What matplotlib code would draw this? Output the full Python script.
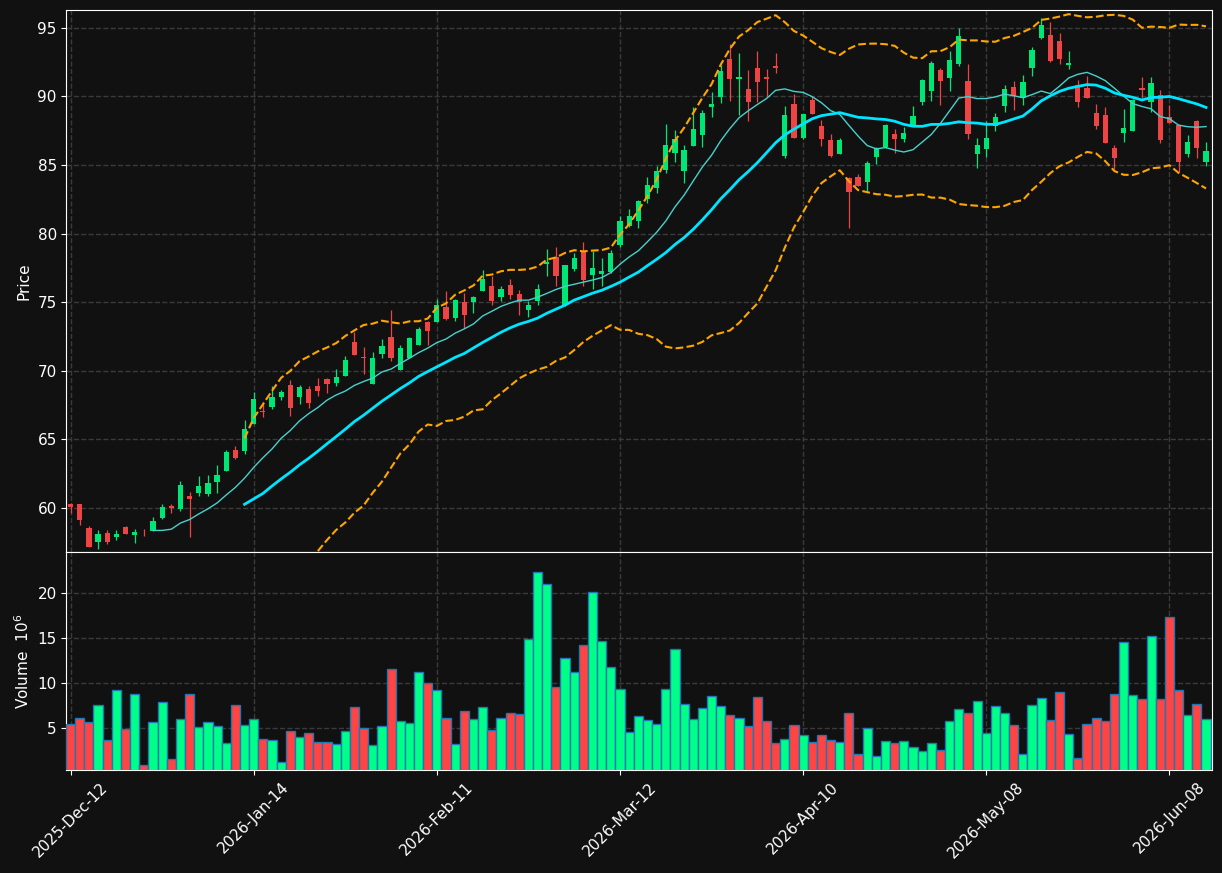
import numpy as np
import pandas as pd
import matplotlib
matplotlib.use("Agg")
import matplotlib.pyplot as plt

# OHLC valores (125 sesiones)
opens = [60.29, 60.29, 58.54, 57.52, 58.18, 57.88, 58.60, 58.03, 58.20, 58.30,
         59.30, 60.17, 59.95, 60.87, 61.10, 61.05, 61.90, 62.72, 64.23, 64.18,
         66.15, 67.07, 67.36, 68.10, 68.97, 68.10, 68.68, 68.90, 69.40, 69.14,
         69.65, 72.10, 71.00, 69.07, 71.25, 72.47, 70.08, 70.96, 71.90, 73.56,
         73.58, 74.66, 73.85, 75.00, 75.00, 75.82, 76.19, 75.40, 76.26, 75.60,
         74.40, 75.10, 77.80, 78.30, 74.80, 77.43, 78.74, 76.98, 77.08, 77.20,
         79.18, 80.56, 80.93, 82.56, 83.36, 84.67, 85.90, 84.60, 86.42, 87.22,
         89.20, 89.97, 92.74, 91.30, 90.55, 92.08, 91.43, 92.25, 85.67, 89.46,
         86.98, 89.75, 87.86, 86.83, 85.83, 84.04, 84.12, 83.80, 85.60, 86.30,
         87.27, 86.90, 87.90, 89.63, 90.43, 91.94, 91.38, 92.38, 91.14, 85.83,
         86.20, 87.88, 89.33, 90.70, 89.92, 92.08, 94.30, 94.50, 94.05, 92.33,
         90.84, 90.63, 88.80, 88.66, 86.25, 87.36, 87.50, 90.63, 89.63, 90.10,
         88.50, 87.93, 85.83, 88.22, 85.25]
highs = [60.35, 60.30, 58.69, 58.40, 58.40, 58.40, 58.70, 58.50, 58.50, 59.35,
         60.30, 60.30, 62.00, 61.15, 62.30, 62.40, 63.10, 64.20, 64.55, 66.40,
         68.45, 67.75, 68.90, 68.60, 69.30, 69.00, 68.90, 69.50, 69.45, 70.10,
         71.10, 72.80, 71.70, 71.40, 72.30, 74.40, 71.90, 72.50, 73.20, 73.60,
         75.20, 75.80, 75.20, 75.70, 75.45, 77.35, 76.90, 76.20, 76.70, 75.90,
         75.10, 76.30, 78.90, 79.00, 77.75, 78.60, 79.40, 78.70, 78.20, 78.80,
         81.30, 81.80, 82.45, 84.10, 84.90, 88.00, 87.55, 86.47, 89.20, 89.00,
         90.30, 92.30, 93.80, 93.20, 91.90, 93.30, 92.00, 93.20, 89.30, 90.20,
         88.75, 90.00, 88.30, 87.30, 87.00, 84.10, 84.35, 85.30, 86.30, 88.00,
         87.60, 87.80, 89.30, 91.25, 92.60, 92.10, 93.30, 95.00, 92.40, 87.00,
         88.20, 88.80, 90.85, 91.10, 91.60, 93.60, 95.75, 95.40, 94.60, 93.35,
         91.20, 91.50, 89.45, 89.20, 86.50, 89.08, 89.80, 91.45, 91.45, 90.48,
         89.40, 87.95, 87.20, 88.30, 86.70]
lows = [59.66, 58.78, 57.13, 57.03, 57.40, 57.70, 58.10, 57.45, 57.95, 58.30,
        59.20, 59.60, 59.76, 57.90, 60.85, 60.85, 61.10, 62.70, 63.60, 63.90,
        66.10, 66.60, 67.20, 67.90, 66.70, 67.60, 67.30, 68.20, 68.40, 68.90,
        69.60, 71.15, 69.80, 69.05, 70.90, 70.70, 70.05, 70.90, 71.85, 71.90,
        73.55, 73.70, 73.65, 73.10, 74.20, 75.80, 74.80, 75.10, 75.20, 74.10,
        73.90, 74.80, 76.90, 76.20, 74.70, 77.30, 76.15, 76.00, 76.20, 77.15,
        79.00, 80.50, 80.40, 82.20, 83.00, 84.40, 85.20, 83.70, 86.40, 86.30,
        88.50, 89.50, 89.70, 88.66, 88.20, 89.60, 90.00, 91.70, 85.50, 86.95,
        86.90, 88.70, 86.40, 85.60, 85.80, 80.44, 83.45, 83.10, 85.10, 86.25,
        85.90, 86.70, 87.85, 89.40, 89.65, 89.40, 90.40, 92.20, 86.90, 84.80,
        85.60, 87.50, 88.90, 89.00, 89.40, 91.50, 94.20, 92.55, 92.40, 92.00,
        89.20, 89.90, 87.60, 86.60, 84.70, 86.70, 87.45, 89.90, 88.85, 86.60,
        88.05, 84.50, 85.60, 85.50, 84.90]
closes = [60.07, 59.12, 57.18, 58.10, 57.52, 58.10, 58.10, 58.25, 58.15, 59.05,
          60.07, 60.00, 61.68, 60.66, 61.60, 61.82, 62.40, 64.08, 63.67, 65.76,
          67.95, 67.00, 68.10, 68.46, 67.30, 68.80, 67.65, 68.53, 69.04, 69.55,
          70.80, 71.18, 70.90, 70.94, 71.80, 70.90, 71.67, 72.40, 73.05, 72.93,
          74.80, 73.80, 75.17, 74.07, 75.40, 76.70, 75.10, 75.97, 75.50, 75.00,
          74.80, 75.97, 77.90, 76.94, 77.70, 78.23, 76.65, 77.50, 77.28, 78.60,
          80.93, 81.29, 82.39, 83.55, 84.57, 86.47, 86.90, 86.10, 87.64, 88.80,
          89.46, 91.87, 91.28, 91.40, 89.63, 91.09, 91.24, 92.10, 88.66, 86.98,
          88.73, 88.73, 86.90, 85.67, 86.83, 83.07, 83.50, 85.16, 86.25, 87.93,
          86.90, 87.34, 88.56, 91.20, 92.45, 91.16, 92.67, 94.42, 87.30, 86.47,
          86.98, 88.50, 90.55, 90.04, 91.06, 93.40, 95.24, 92.60, 92.70, 92.47,
          89.63, 89.92, 87.88, 86.64, 85.54, 87.70, 89.75, 90.50, 90.99, 86.80,
          88.10, 85.25, 86.69, 86.27, 86.03]
# volumen en millones
volumes = [5.41, 6.08, 5.64, 7.54, 3.62, 9.22, 4.85, 8.77, 0.82, 5.64,
           7.88, 1.50, 5.97, 8.77, 5.08, 5.64, 5.19, 3.29, 7.54, 5.30,
           5.97, 3.73, 3.62, 1.16, 4.63, 3.96, 4.41, 3.40, 3.40, 3.18,
           4.63, 7.32, 4.97, 3.06, 5.19, 11.57, 5.75, 5.53, 11.23, 10.00,
           9.22, 6.08, 3.18, 6.87, 5.97, 7.32, 4.74, 6.08, 6.65, 6.53,
           14.93, 22.32, 20.97, 9.56, 12.80, 11.23, 14.26, 20.08, 14.70, 11.80,
           9.33, 4.52, 6.31, 5.86, 5.41, 9.33, 13.81, 7.65, 5.97, 7.20,
           8.55, 7.43, 6.42, 6.08, 5.19, 8.44, 5.75, 3.29, 3.73, 5.30,
           4.18, 3.40, 4.18, 3.62, 3.40, 6.65, 2.05, 4.97, 1.83, 3.51,
           3.29, 3.51, 2.84, 2.39, 3.29, 2.50, 5.75, 7.09, 6.65, 7.99,
           4.41, 7.43, 6.65, 5.30, 2.05, 7.54, 8.32, 5.86, 9.00, 4.29,
           1.60, 5.41, 6.08, 5.75, 8.77, 14.59, 8.66, 8.21, 15.27, 8.21,
           17.39, 9.22, 6.42, 7.65, 5.97]

tick_pos = [0, 20, 40, 60, 80, 100, 120]
tick_labels = ['2025-Dec-12', '2026-Jan-14', '2026-Feb-11', '2026-Mar-12',
               '2026-Apr-10', '2026-May-08', '2026-Jun-08']

df = pd.DataFrame({'Open': opens, 'High': highs, 'Low': lows,
                   'Close': closes, 'Volume': volumes})
x = np.arange(len(df))
sma10 = df['Close'].rolling(10).mean()
sma20 = df['Close'].rolling(20).mean()
std20 = df['Close'].rolling(20).std()
bb_up = sma20 + 2 * std20
bb_dn = sma20 - 2 * std20

bg = '#111111'
up_c, dn_c = '#00e676', '#ef4444'
vup_c, vdn_c = '#00ff88', '#ff4444'

fig = plt.figure(figsize=(12.22, 8.73), dpi=100, facecolor=bg)
ax = fig.add_axes([0.0544, 0.3677, 0.9374, 0.6209])
axv = fig.add_axes([0.0544, 0.1180, 0.9374, 0.2497], sharex=ax)

up = df['Close'] >= df['Open']
colors = np.where(up, up_c, dn_c)

# velas
ax.vlines(x, df['Low'], df['High'], colors=colors, linewidth=0.9, zorder=3)
body_bot = np.minimum(df['Open'], df['Close'])
body_h = np.maximum(np.abs(df['Close'] - df['Open']), 0.06)
ax.bar(x, body_h, width=0.57, bottom=body_bot, color=colors, linewidth=0, zorder=4)

# medias y bandas
ax.plot(x, sma10, color='#48d1cc', linewidth=1.0, zorder=5)
ax.plot(x, sma20, color='#00e5ff', linewidth=2.0, zorder=5)
ax.plot(x, bb_up, color='#ffa500', linewidth=1.5, linestyle='--', zorder=5)
ax.plot(x, bb_dn, color='#ffa500', linewidth=1.5, linestyle='--', zorder=5)

# volumen
vcolors = np.where(up, vup_c, vdn_c)
axv.bar(x, df['Volume'], width=1.0, color=vcolors, edgecolor='#1f77b4',
        linewidth=1.0, zorder=3)

for a in (ax, axv):
    a.set_facecolor(bg)
    a.grid(True, color='#3a3a3a', linestyle='--', linewidth=1.0)
    a.set_axisbelow(True)
    for s in a.spines.values():
        s.set_color('white')
    a.tick_params(colors='white', labelsize=11)

ax.set_xlim(-0.45, 124.65)
ax.set_ylim(56.79, 96.31)
ax.set_yticks([60, 65, 70, 75, 80, 85, 90, 95])
ax.set_ylabel('Price', color='white', fontsize=11)
ax.tick_params(axis='x', bottom=False, labelbottom=False)

axv.set_ylim(0.30, 24.59)
axv.set_yticks([5, 10, 15, 20])
axv.set_ylabel('Volume  $10^{6}$', color='white', fontsize=11)
axv.set_xticks(tick_pos)
axv.set_xticklabels(tick_labels, rotation=45)

fig.savefig('out.png', dpi=100, facecolor=bg)
